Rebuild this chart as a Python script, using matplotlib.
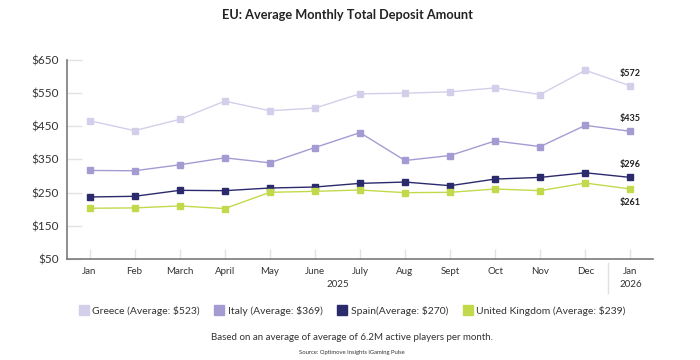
import matplotlib
matplotlib.use("Agg")
import matplotlib.pyplot as plt
from matplotlib.lines import Line2D
import matplotlib.transforms as mtransforms

plt.rcParams["font.family"] = ["Lato", "DejaVu Sans"]

months = ["Jan", "Feb", "March", "April", "May", "June", "July",
          "Aug", "Sept", "Oct", "Nov", "Dec", "Jan"]
greece = [467, 437, 471, 526, 497, 505, 548, 550, 554, 566, 546, 619, 572]
italy = [317, 316, 334, 355, 340, 386, 431, 347, 362, 406, 389, 453, 435]
spain = [237, 239, 257, 256, 264, 267, 278, 282, 271, 291, 296, 310, 296]
uk = [203, 204, 210, 202, 251, 254, 258, 250, 251, 261, 256, 279, 261]

series_names = ["Greece (Average: $523)", "Italy (Average: $369)",
                "Spain(Average: $270)", "United Kingdom (Average: $239)"]
colors = ["#d3cfea", "#a59bd3", "#2b2a6c", "#c3d94c"]
end_labels = ["$572", "$435", "$296", "$261"]
y_ticks = [50, 150, 250, 350, 450, 550, 650]

fig = plt.figure(figsize=(7, 3.6), dpi=100)
ax = fig.add_axes([0.0957, 0.2806, 0.837, 0.5527])

x = list(range(len(months)))
all_series = [greece, italy, spain, uk]
for vals, c in zip(all_series, colors):
    ax.plot(x, vals, color=c, lw=1.0, marker="s", ms=4.5, mec=c, mfc=c)

# end-of-line labels
offsets = [9, 9, 9, -10]
for vals, lab, off in zip(all_series, end_labels, offsets):
    ax.annotate(lab, (x[-1], vals[-1]), xytext=(0, off), textcoords="offset points",
                ha="center", va="center", fontsize=6.5, fontweight="bold", color="#222222")

ax.set_xlim(-0.5, 12.5)
ax.set_ylim(50, 650)
ax.set_yticks(y_ticks)
ax.set_yticklabels([f"${v}" for v in y_ticks])
ax.set_xticks(x)
ax.set_xticklabels(months)

for side in ["top", "right"]:
    ax.spines[side].set_visible(False)
for side in ["left", "bottom"]:
    ax.spines[side].set_color("#7a7a7a")
    ax.spines[side].set_linewidth(1.2)

ax.tick_params(axis="y", direction="in", length=11, color="#e3e3e3", width=1,
               labelsize=8.5, labelcolor="#333333", pad=6)
ax.tick_params(axis="x", direction="in", length=7, color="#e3e3e3", width=1,
               labelsize=7, labelcolor="#333333", pad=6)

# year labels and separator
trans = mtransforms.blended_transform_factory(ax.transData, ax.transAxes)
ax.text(5.5, -0.13, "2025", transform=trans, ha="center", va="center",
        fontsize=7, color="#333333")
ax.text(12, -0.13, "2026", transform=trans, ha="center", va="center",
        fontsize=7, color="#333333")
ax.add_line(Line2D([11.5, 11.5], [-0.02, -0.17], transform=trans, color="#e0e0e0",
                   lw=1, clip_on=False))

fig.text(0.497, 0.958, "EU: Average Monthly Total Deposit Amount", ha="center",
         va="center", fontsize=9.2, fontweight="bold", color="#222222")

handles = [Line2D([], [], color=c, marker="s", ms=7.5, ls="none") for c in colors]
fig.legend(handles, series_names, loc="center", bbox_to_anchor=(0.503, 0.136),
           ncol=4, frameon=False, fontsize=7.5, handletextpad=0.3,
           columnspacing=1.4, handlelength=1.0, labelcolor="#333333")

fig.text(0.503, 0.062, "Based on an average of average of 6.2M active players per month.",
         ha="center", va="center", fontsize=7, color="#333333")
fig.text(0.503, 0.02, "Source: Optimove Insights iGaming Pulse",
         ha="center", va="center", fontsize=4.2, color="#333333")

fig.savefig("out.png", dpi=100)
